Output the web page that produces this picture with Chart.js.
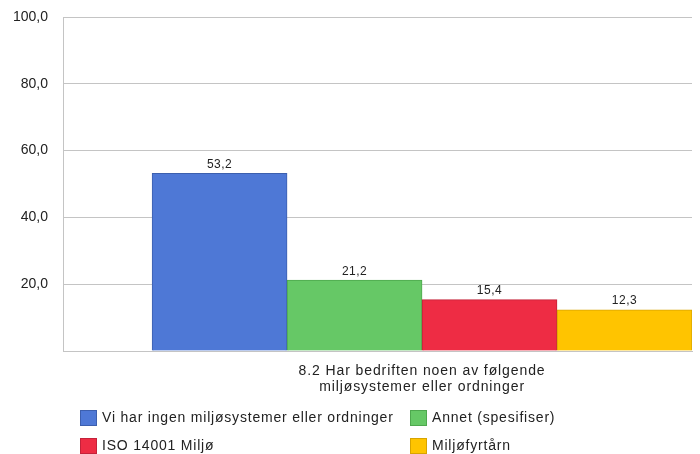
<!DOCTYPE html>
<html>
<head>
<meta charset="utf-8">
<script src="https://cdn.jsdelivr.net/npm/chart.js@4"></script>
<style>
  html, body { margin: 0; padding: 0; background: #fff; }
  #wrap { width: 700px; height: 454px; }
</style>
</head>
<body>
<div id="wrap"><canvas id="c"></canvas></div>
<script>
// Данные графика
const categories = ['Vi har ingen miljøsystemer eller ordninger', 'Annet (spesifiser)', 'ISO 14001 Miljø', 'Miljøfyrtårn'];
const values = [53.2, 21.2, 15.4, 12.3];
const colors = ['#4e78d6', '#66c866', '#ee2c44', '#ffc400'];
const borders = ['#3c5fae', '#4ea84e', '#c4223a', '#d8a400'];
const xLabel = ['8.2 Har bedriften noen av følgende', 'miljøsystemer eller ordninger'];
const yTicks = [0, 20, 40, 60, 80, 100];

const fmt = v => v.toFixed(1).replace('.', ',');
const FONT = '"Liberation Sans", Arial, sans-serif';

// Подписи значений над столбцами и подпись оси X под группой
const valueLabels = {
    id: 'valueLabels',
    afterDatasetsDraw(chart) {
        const ctx = chart.ctx;
        const meta = chart.getDatasetMeta(0);
        ctx.save();
        ctx.font = '12px ' + FONT;
        ctx.letterSpacing = '0.5px';
        ctx.fillStyle = '#222';
        ctx.textAlign = 'center';
        ctx.textBaseline = 'middle';
        meta.data.forEach((bar, i) => {
            ctx.fillText(fmt(values[i]), bar.x, bar.y - 9);
        });
        // подпись категории по центру группы столбцов
        const cx = chart.scales.x.getPixelForValue((values.length - 1) / 2);
        const top = chart.chartArea.bottom;
        ctx.font = '14px ' + FONT;
        ctx.letterSpacing = '0.9px';
        xLabel.forEach((line, k) => ctx.fillText(line, cx, top + 20 + k * 16));
        ctx.restore();
    }
};

// Легенда в две колонки
const gridLegend = {
    id: 'gridLegend',
    afterDraw(chart) {
        const ctx = chart.ctx;
        ctx.save();
        ctx.font = '14px ' + FONT;
        ctx.letterSpacing = '0.8px';
        ctx.textBaseline = 'middle';
        ctx.textAlign = 'left';
        categories.forEach((name, i) => {
            const col = i % 2, row = Math.floor(i / 2);
            const x = col === 0 ? 80 : 410;
            const y = row === 0 ? 410 : 438;
            ctx.fillStyle = colors[i];
            ctx.fillRect(x, y, 17, 16);
            ctx.strokeStyle = borders[i];
            ctx.lineWidth = 1;
            ctx.strokeRect(x + 0.5, y + 0.5, 16, 15);
            ctx.fillStyle = '#222';
            ctx.fillText(name, x + 22, y + 8.5);
        });
        ctx.restore();
    }
};

new Chart(document.getElementById('c'), {
    type: 'bar',
    data: {
        datasets: [{
            data: values.map((v, i) => ({ x: i, y: v })),
            backgroundColor: colors,
            borderColor: borders,
            borderWidth: 1,
            categoryPercentage: 1,
            barPercentage: 1
        }]
    },
    options: {
        responsive: true,
        maintainAspectRatio: false,
        animation: false,
        layout: { padding: { top: 17, right: 8, left: 0, bottom: 0 } },
        plugins: {
            legend: { display: false },
            tooltip: { enabled: false }
        },
        scales: {
            x: {
                type: 'linear',
                min: -1.16,
                max: 3.5,
                offset: false,
                grid: { display: false },
                border: { color: '#c4c4c4' },
                afterBuildTicks: scale => { scale.ticks = []; },
                afterFit: scale => { scale.height = 103; },
                ticks: { display: false }
            },
            y: {
                min: 0,
                max: 100,
                afterBuildTicks: scale => { scale.ticks = yTicks.map(v => ({ value: v })); },
                afterFit: scale => {
                    scale.width = 63;
                    scale.paddingTop = 0;
                    scale.paddingBottom = 0;
                },
                grid: { color: '#c4c4c4', drawTicks: false },
                border: { color: '#c4c4c4' },
                ticks: {
                    callback: v => v === 0 ? '' : fmt(v),
                    color: '#222',
                    padding: 15,
                    font: { family: FONT, size: 14 }
                }
            }
        }
    },
    plugins: [valueLabels, gridLegend]
});
</script>
</body>
</html>
